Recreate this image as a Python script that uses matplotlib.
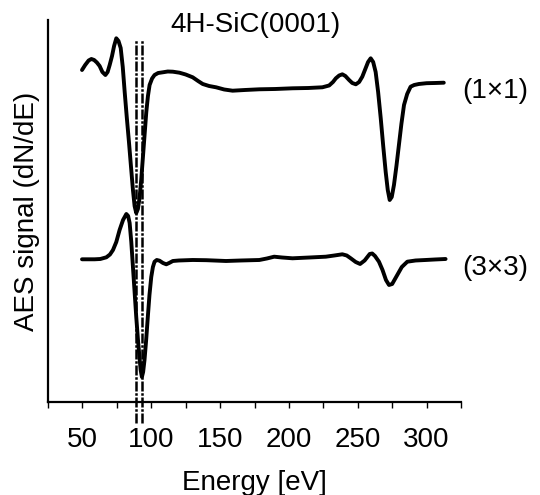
import matplotlib
matplotlib.use("Agg")
import matplotlib.pyplot as plt

plt.rcParams['font.family'] = ['Liberation Sans', 'DejaVu Sans']

# Energy [eV] and AES signal (arbitrary units) for the (1x1) surface
e_1x1 = [49.7, 52, 54.5, 56.5, 58.5, 60.5, 62.5, 64.5, 66.7, 68.3, 69.8, 71.5,
         73, 74.6, 76.2, 77.8, 79.3, 80.7, 82.2, 83.8, 85.3, 86.7, 87.9, 89.1,
         90.3, 91.5, 92.7, 93.9, 95.2, 96.4, 97.6, 98.8, 100.6, 102.4, 105,
         108.4, 112, 115.7, 120.5, 125, 130.1, 134, 137.4, 142, 147.1, 153,
         159.1, 168, 178.5, 190, 202.6, 214, 224.3, 229.2, 232, 234.1, 236.5,
         238.8, 241, 243.7, 246, 248.6, 251, 253.3, 255.5, 257.5, 259.4, 261.2,
         263.0, 264.8, 266.7, 268.5, 270.3, 271.8, 273.2, 274.7, 276.3, 278.1,
         279.9, 281.7, 283.6, 285.9, 288.4, 291, 294.4, 300, 306, 312.5]
s_1x1 = [332, 337, 341.5, 343, 342, 339.5, 336, 330, 327, 330, 337, 346,
         356, 363.7, 361, 354, 335, 310, 285, 260, 235, 212, 196, 189,
         193, 204, 222, 244, 268, 290, 306, 317, 323.5, 327, 329,
         329.7, 330.5, 330.3, 329.3, 327.5, 324.7, 321, 318, 316, 314.7, 312.5,
         311.3, 312, 312.7, 313, 313.7, 314, 314.7, 316.5, 320, 323.7, 326.5,
         327.7, 326, 322, 319, 317.7, 320, 325.3, 333, 340, 343.7, 340,
         330, 310, 283.7, 256, 230, 212, 202, 205, 217, 236,
         257, 278, 297, 308, 315.3, 317, 318, 318.8, 319, 319.3]

# Energy [eV] and AES signal (arbitrary units) for the (3x3) surface
e_3x3 = [49.7, 54, 58.9, 63, 67.4, 70, 72.2, 74.6, 77.0, 79.5, 81.9, 83.2,
         84.3, 85.5, 86.7, 87.9, 89.1, 90.3, 91.5, 92.3, 93.2, 94.1, 95.1, 96.3,
         97.5, 98.7, 100.0, 101.2, 102.4, 104, 106.0, 108.5, 110.9, 113, 115.7,
         120, 130.1, 140, 154.3, 165, 178.5, 184, 189.3, 195, 202.6, 215, 226.8,
         233, 238.8, 242, 244.9, 248.5, 251.7, 255, 258.7, 260.5, 262.5, 265.4,
         268, 270.5, 272.7, 275, 278.7, 282, 286.0, 292, 299.3, 306, 313.8]
s_3x3 = [142.7, 142.7, 142.7, 143, 144.7, 147.5, 152, 160, 172, 182, 188, 186,
         179, 160, 135, 110, 85, 63, 44, 32, 25, 30, 42, 62,
         85, 107, 125, 135, 140.3, 142, 141.3, 139, 137.7, 139, 141,
         141.5, 142, 141.8, 141, 141.5, 142, 143.5, 145.3, 144.5, 143.7, 144.5, 145.3,
         146.5, 147.7, 146.5, 143.7, 140, 138, 141.5, 148, 148.5, 146, 140.3,
         132, 122, 117, 118, 127, 135, 140.3, 141.5, 142, 142.5, 143]

marker_energies = [89, 93]
labels = ["(1\u00d71)", "(3\u00d73)"]
label_levels = [311, 134]

xticks = [25, 50, 75, 100, 125, 150, 175, 200, 225, 250, 275, 300, 325]
xticklabels = ["", "50", "", "100", "", "150", "", "200", "", "250", "", "300", ""]

fig = plt.figure(figsize=(5.4, 4.95), dpi=100)
ax = fig.add_axes([0.0889, 0.1879, 0.7648, 0.7717])

ax.plot(e_1x1, s_1x1, color='black', lw=2.8, solid_joinstyle='round',
        solid_capstyle='round')
ax.plot(e_3x3, s_3x3, color='black', lw=2.8, solid_joinstyle='round',
        solid_capstyle='round')

for e in marker_energies:
    ax.axvline(e, ymin=-0.055, ymax=0.948, color='black', lw=1.8,
               linestyle=(0, (4, 0.7, 1, 0.7)), clip_on=False)

for lab, lev in zip(labels, label_levels):
    ax.text(325.8, lev, lab, fontsize=20, va='center', ha='left', clip_on=False)

ax.set_xlim(25, 325)
ax.set_ylim(0, 382)
ax.set_xticks(xticks)
ax.set_xticklabels(xticklabels, fontsize=20)
ax.set_yticks([])
ax.tick_params(axis='x', direction='out', length=4, width=1, pad=14)

for side in ['top', 'right']:
    ax.spines[side].set_visible(False)
ax.spines['left'].set_linewidth(1.6)
ax.spines['bottom'].set_linewidth(1.6)

ax.set_xlabel("Energy [eV]", fontsize=20, labelpad=12)
ax.set_ylabel("AES signal (dN/dE)", fontsize=20, labelpad=6)

fig.text(0.474, 0.935, "4H-SiC(0001)", fontsize=20, ha='center', va='baseline')

fig.savefig("out.png", dpi=100)
